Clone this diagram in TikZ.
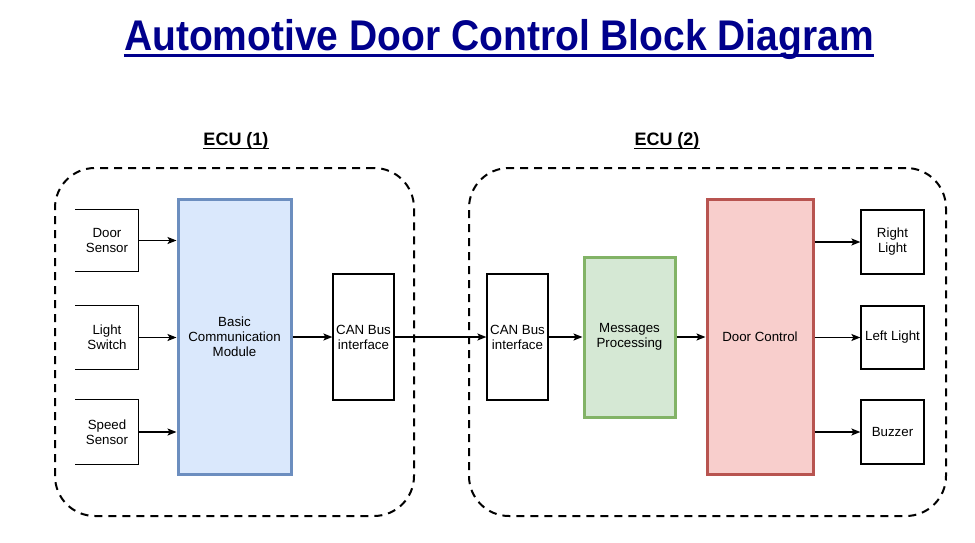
\documentclass[tikz,border=0pt]{standalone}
\usepackage{fontspec}
\usepackage{graphicx}
\setmainfont{Liberation Sans}
\usetikzlibrary{arrows.meta}

\definecolor{titleblue}{RGB}{0,0,140}
\definecolor{bluefill}{HTML}{DAE8FC}
\definecolor{bluedraw}{HTML}{6C8EBF}
\definecolor{greenfill}{HTML}{D5E8D4}
\definecolor{greendraw}{HTML}{82B366}
\definecolor{redfill}{HTML}{F8CECC}
\definecolor{reddraw}{HTML}{B85450}

\tikzset{
  blk/.style={inner sep=0pt, align=center, font=\fontsize{13.3}{15}\selectfont, line width=1.2pt},
  ecubox/.style={draw, line width=2pt, dash pattern=on 8pt off 6pt, rounded corners=40pt, inner sep=0pt},
  sig/.style={line width=1.2pt, -{Stealth[length=9pt,width=7pt,inset=2pt]}}
}

\begin{document}
\begin{tikzpicture}[x=1pt,y=-1pt]
			\useasboundingbox (0,0) rectangle (975,543);
			
			% Title
			\node (title) at (499,51) [anchor=base, inner sep=0pt, text=titleblue, font=\fontsize{39}{44}\bfseries\selectfont] {\scalebox{1}[1.1]{Automotive Door Control Block Diagram}};
			\draw[titleblue, line width=3pt] ([yshift=-5pt]title.base west) -- ([yshift=-5pt]title.base east);
			
			% ECU frames
			\node (ecu1) at (234.5,342) [ecubox, minimum width=359pt, minimum height=348pt] {};
			\node (ecu2) at (707.5,342) [ecubox, minimum width=477pt, minimum height=348pt] {};
			\node (lab1) at (236,141) [inner sep=0pt, font=\fontsize{18}{20}\bfseries\selectfont] {ECU (1)};
			\node (lab2) at (667,141) [inner sep=0pt, font=\fontsize{18}{20}\bfseries\selectfont] {ECU (2)};
			\draw[line width=1.2pt] ([yshift=-3pt]lab1.base west) -- ([yshift=-3pt]lab1.base east);
			\draw[line width=1.2pt] ([yshift=-3pt]lab2.base west) -- ([yshift=-3pt]lab2.base east);
			
			% Define nodes of ECU (1)
			\node (ds) at (107,240.5) [blk, minimum width=62pt, minimum height=61pt] {Door\\Sensor};
			\node (ls) at (107,337.5) [blk, minimum width=62pt, minimum height=63pt] {Light\\Switch};
			\node (ss) at (107,432) [blk, minimum width=62pt, minimum height=64pt] {Speed\\Sensor};
			\node (bcm) at (234.5,336.5) [blk, draw=bluedraw, fill=bluefill, line width=3pt, minimum width=113pt, minimum height=275pt] {Basic\\Communication\\Module};
			\node (can1) at (363.5,337) [blk, draw, minimum width=61pt, minimum height=126pt] {CAN Bus\\interface};
			
			% Input boxes are open on the left
			\draw[line width=1.2pt] (ds.north west) -- (ds.north east) -- (ds.south east) -- (ds.south west);
			\draw[line width=1.2pt] (ls.north west) -- (ls.north east) -- (ls.south east) -- (ls.south west);
			\draw[line width=1.2pt] (ss.north west) -- (ss.north east) -- (ss.south east) -- (ss.south west);
			
			% Define nodes of ECU (2)
			\node (can2) at (517.5,337) [blk, draw, minimum width=61pt, minimum height=126pt] {CAN Bus\\interface};
			\node (mp) at (629.5,337) [blk, draw=greendraw, fill=greenfill, line width=3pt, minimum width=91pt, minimum height=160pt] {Messages\\Processing};
			\node (dc) at (760,336.5) [blk, draw=reddraw, fill=redfill, line width=3pt, minimum width=106pt, minimum height=275pt] {Door Control};
			\node (rl) at (892.5,242) [blk, draw, minimum width=63pt, minimum height=64pt] {Right\\Light};
			\node (ll) at (892.5,337.5) [blk, draw, minimum width=63pt, minimum height=63pt] {Left Light};
			\node (bz) at (892.5,432) [blk, draw, minimum width=63pt, minimum height=64pt] {Buzzer};
			
			% Draw edges
			\draw[sig] (ds.east) -- (ds.east -| bcm.west);
			\draw[sig] (ls.east) -- (ls.east -| bcm.west);
			\draw[sig] (ss.east) -- (ss.east -| bcm.west);
			\draw[sig] (bcm.east |- can1.west) -- (can1.west);
			\draw[sig] (can1.east) -- (can2.west);
			\draw[sig] (can2.east) -- (mp.west);
			\draw[sig] (mp.east) -- (mp.east -| dc.west);
			\draw[sig] (dc.east |- rl.west) -- (rl.west);
			\draw[sig] (dc.east |- ll.west) -- (ll.west);
			\draw[sig] (dc.east |- bz.west) -- (bz.west);
		\end{tikzpicture}
\end{document}
